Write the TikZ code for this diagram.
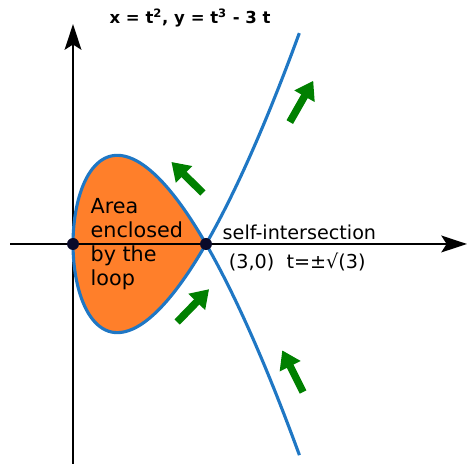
\documentclass[tikz,border=0pt]{standalone}
\usepackage{fontspec}
\setmainfont{DejaVu Sans}
\usetikzlibrary{arrows.meta}
\definecolor{curveblue}{HTML}{1F77C4}
\definecolor{loopfill}{HTML}{FF7F2A}
\definecolor{dotcol}{HTML}{0A0A2A}
\definecolor{flowgreen}{HTML}{008000}

\begin{document}
\begin{tikzpicture}[
    line width=1pt,
    font=\fontsize{12.3}{15.4}\selectfont,
    axis/.style={draw=black, line width=1.1pt, -{Stealth[length=0.58cm, width=0.38cm, inset=0.12cm]}},
    curve/.style={draw=curveblue, line width=2pt, smooth, samples=120},
    flow/.style={draw=flowgreen, line width=4.8pt, -{Triangle[length=0.4cm, width=0.5cm]}},
    dot/.style={circle, fill=dotcol, inner sep=0pt, minimum size=0.27cm}
]
    \useasboundingbox (-1.647,-4.963) rectangle (8.888,5.504);

    % Loop area
    \fill[loopfill] plot[smooth, samples=80, domain=-1.7320508:1.7320508] ({\x*\x}, {\x*\x*\x-3*\x}) -- cycle;

    % Axes
    \coordinate (xstart) at (-1.42, 0);
    \coordinate (xend) at (8.888, 0);
    \coordinate (ystart) at (0, -4.963);
    \coordinate (yend) at (0, 4.96);
    \draw[axis] (xstart) -- (xend);
    \draw[axis] (ystart) -- (yend);

    % Curve x = t^2, y = t^3 - 3t
    \draw[curve, domain=-2.26:2.26] plot ({\x*\x}, {\x*\x*\x-3*\x});

    % Points
    \node[dot] (origin) at (0, 0) {};
    \node[dot] (crossing) at (3, 0) {};

    % Direction arrows
    \coordinate (f1a) at (2.93, 1.15);  \coordinate (f1b) at (2.22, 1.85);
    \coordinate (f2a) at (2.35, -1.76); \coordinate (f2b) at (3.07, -1.02);
    \coordinate (f3a) at (4.89, 2.75);  \coordinate (f3b) at (5.42, 3.68);
    \coordinate (f4a) at (5.19, -3.34); \coordinate (f4b) at (4.72, -2.40);
    \draw[flow] (f1a) -- (f1b);
    \draw[flow] (f2a) -- (f2b);
    \draw[flow] (f3a) -- (f3b);
    \draw[flow] (f4a) -- (f4b);

    % Labels
    \node[font=\fontsize{10.6}{13}\selectfont\bfseries] (title) at (2.64, 5.10) {x = t\textsuperscript{2}, y = t\textsuperscript{3} - 3 t};
    \node[anchor=west, inner sep=0pt] (selflabel) at (3.36, 0.27) {self-intersection};
    \node[anchor=west, inner sep=0pt] (pointlabel) at (3.50, -0.41) {(3,0)\ \ t=±√(3)};
    \node[anchor=west, align=left, inner sep=0pt, font=\fontsize{13.3}{15.4}\selectfont] (arealabel) at (0.38, 0) {Area\\enclosed\\by the\\loop};

\end{tikzpicture}
\end{document}
